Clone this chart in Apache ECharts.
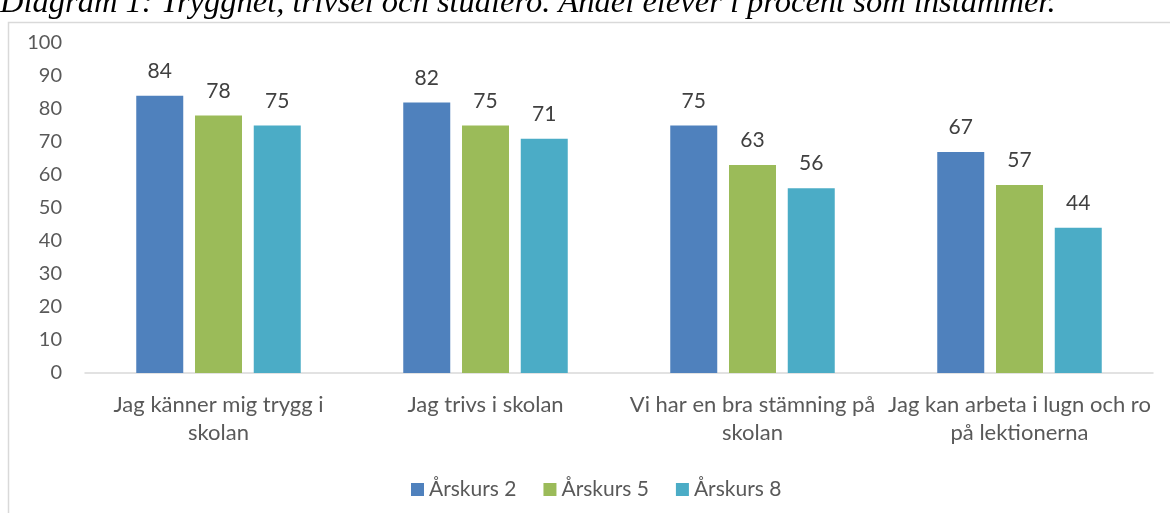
<!DOCTYPE html>
<html>
<head>
<meta charset="utf-8">
<script src="https://cdn.jsdelivr.net/npm/echarts@6/dist/echarts.min.js"></script>
<style>
  html, body { margin: 0; padding: 0; background: #fff; }
  #chart { width: 1170px; height: 513px; }
</style>
</head>
<body>
<div id="chart"></div>
<script>
// kategorier och värden (andel i procent)
var categories = [
    'Jag känner mig trygg i\nskolan',
    'Jag trivs i skolan',
    'Vi har en bra stämning på\nskolan',
    'Jag kan arbeta i lugn och ro\npå lektionerna'
];
var seriesNames = ['Årskurs 2', 'Årskurs 5', 'Årskurs 8'];
var ak2 = [84, 82, 75, 67];
var ak5 = [78, 75, 63, 57];
var ak8 = [75, 71, 56, 44];
var yTicks = [0, 10, 20, 30, 40, 50, 60, 70, 80, 90, 100];

var colors = ['#4f81bd', '#9bbb59', '#4bacc6'];
var font = 'Lato';

var chart = echarts.init(document.getElementById('chart'));

function bar(name, data, i) {
    return {
        name: name,
        type: 'bar',
        data: data,
        barWidth: 47,
        barGap: '25%',
        itemStyle: { color: colors[i] },
        label: {
            show: true,
            position: 'top',
            distance: 14,
            color: '#404040',
            fontFamily: font,
            fontSize: 21
        }
    };
}

var option = {
    animation: false,
    title: {
        text: 'Diagram 1: Trygghet, trivsel och studiero. Andel elever i procent som instämmer.',
        left: 0,
        top: -13,
        padding: 0,
        textStyle: {
            fontFamily: 'Liberation Serif',
            fontStyle: 'italic',
            fontWeight: 'normal',
            fontSize: 32.5,
            color: '#000'
        }
    },
    graphic: [{
        type: 'rect',
        silent: true,
        shape: { x: 8.5, y: 22.5, width: 1200, height: 600 },
        style: { fill: 'none', stroke: '#d9d9d9', lineWidth: 1.5 },
        z: -1
    }],
    legend: {
        data: seriesNames,
        top: 474,
        left: 406,
        itemWidth: 13,
        itemHeight: 13,
        itemGap: 27,
        icon: 'rect',
        textStyle: { color: '#595959', fontFamily: font, fontSize: 21 }
    },
    grid: {
        left: 85,
        right: 17,
        top: 43,
        bottom: 140,
        containLabel: false
    },
    xAxis: {
        type: 'category',
        data: categories,
        axisLine: { lineStyle: { color: '#d9d9d9', width: 1.5 } },
        axisTick: { show: false },
        axisLabel: {
            color: '#595959',
            fontFamily: font,
            fontSize: 22,
            lineHeight: 28,
            margin: 18,
            interval: 0
        }
    },
    yAxis: {
        type: 'value',
        min: yTicks[0],
        max: yTicks[yTicks.length - 1],
        interval: 10,
        axisLine: { show: false },
        axisTick: { show: false },
        splitLine: { show: false },
        axisLabel: {
            color: '#595959',
            fontFamily: font,
            fontSize: 20,
            margin: 23
        }
    },
    series: [
        bar(seriesNames[0], ak2, 0),
        bar(seriesNames[1], ak5, 1),
        bar(seriesNames[2], ak8, 2)
    ]
};

chart.setOption(option);
</script>
</body>
</html>
